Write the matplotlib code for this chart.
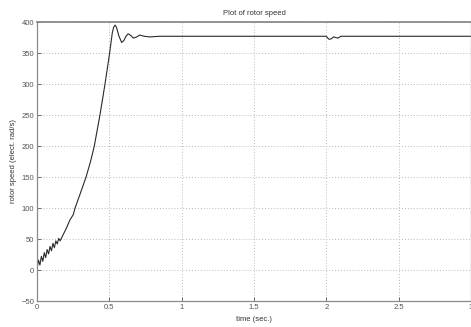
import matplotlib
matplotlib.use("Agg")
import matplotlib.pyplot as plt

# rotor speed trace (time in s, speed in elect. rad/s)
t_start = [0.0, 0.01, 0.02, 0.03, 0.04, 0.05, 0.06, 0.07, 0.08, 0.09, 0.10,
           0.11, 0.12, 0.13, 0.14, 0.15, 0.16, 0.17]
w_start = [2, 16, 8, 22, 14, 28, 20, 33, 26, 38, 31, 43, 36, 47, 42, 51, 47, 52]

t_rise = [0.20, 0.228, 0.25, 0.263, 0.30, 0.339, 0.37, 0.396, 0.435, 0.47,
          0.502, 0.52, 0.53, 0.54, 0.55, 0.565, 0.585, 0.60, 0.615, 0.63,
          0.65, 0.666, 0.69, 0.71, 0.74, 0.78, 0.85, 0.95]
w_rise = [66, 81, 89, 100, 124, 150, 175, 200, 250, 300,
          350, 382, 392, 395, 391, 378, 367, 370, 377, 381,
          378, 374, 376, 379, 377, 376, 377, 377]

t_dip = [2.0, 2.01, 2.02, 2.035, 2.05, 2.065, 2.08, 2.1, 3.0]
w_dip = [377, 374, 372, 373, 376, 375, 374, 377, 377]

x_ticks = [0, 0.5, 1, 1.5, 2, 2.5, 3]
x_tick_labels = ["0", "0.5", "1", "1.5", "2", "2.5", "3"]
y_ticks = [-50, 0, 50, 100, 150, 200, 250, 300, 350, 400]

t = t_start + t_rise + t_dip
w = w_start + w_rise + w_dip

plt.rcParams["font.family"] = ["Liberation Sans", "DejaVu Sans"]

fig = plt.figure(figsize=(4.71, 3.27), dpi=100)
ax = fig.add_axes([0.0786, 0.0795, 0.9214, 0.8532])

ax.plot(t, w, color="#2a2a2a", linewidth=0.8)

ax.set_xlim(0, 3)
ax.set_ylim(-50, 400)
ax.set_xticks(x_ticks)
ax.set_xticklabels(x_tick_labels)
ax.set_yticks(y_ticks)
ax.grid(True, color="#b8b8b8", linestyle=(0, (1, 2)), linewidth=0.7)

ax.tick_params(direction="in", length=3, width=0.6, labelsize=5.5,
               colors="#555555", pad=2)
for side in ax.spines.values():
    side.set_color("#8a8a8a")
    side.set_linewidth(0.9)
ax.spines["top"].set_linewidth(1.3)

ax.set_title("Plot of rotor speed", fontsize=5.5, color="#333333", pad=5)
ax.set_xlabel("time (sec.)", fontsize=5.5, color="#333333", labelpad=4)
ax.set_ylabel("rotor speed (elect. rad/s)", fontsize=5.5, color="#333333",
              labelpad=3)

fig.savefig("out.png", dpi=100, facecolor="white")
